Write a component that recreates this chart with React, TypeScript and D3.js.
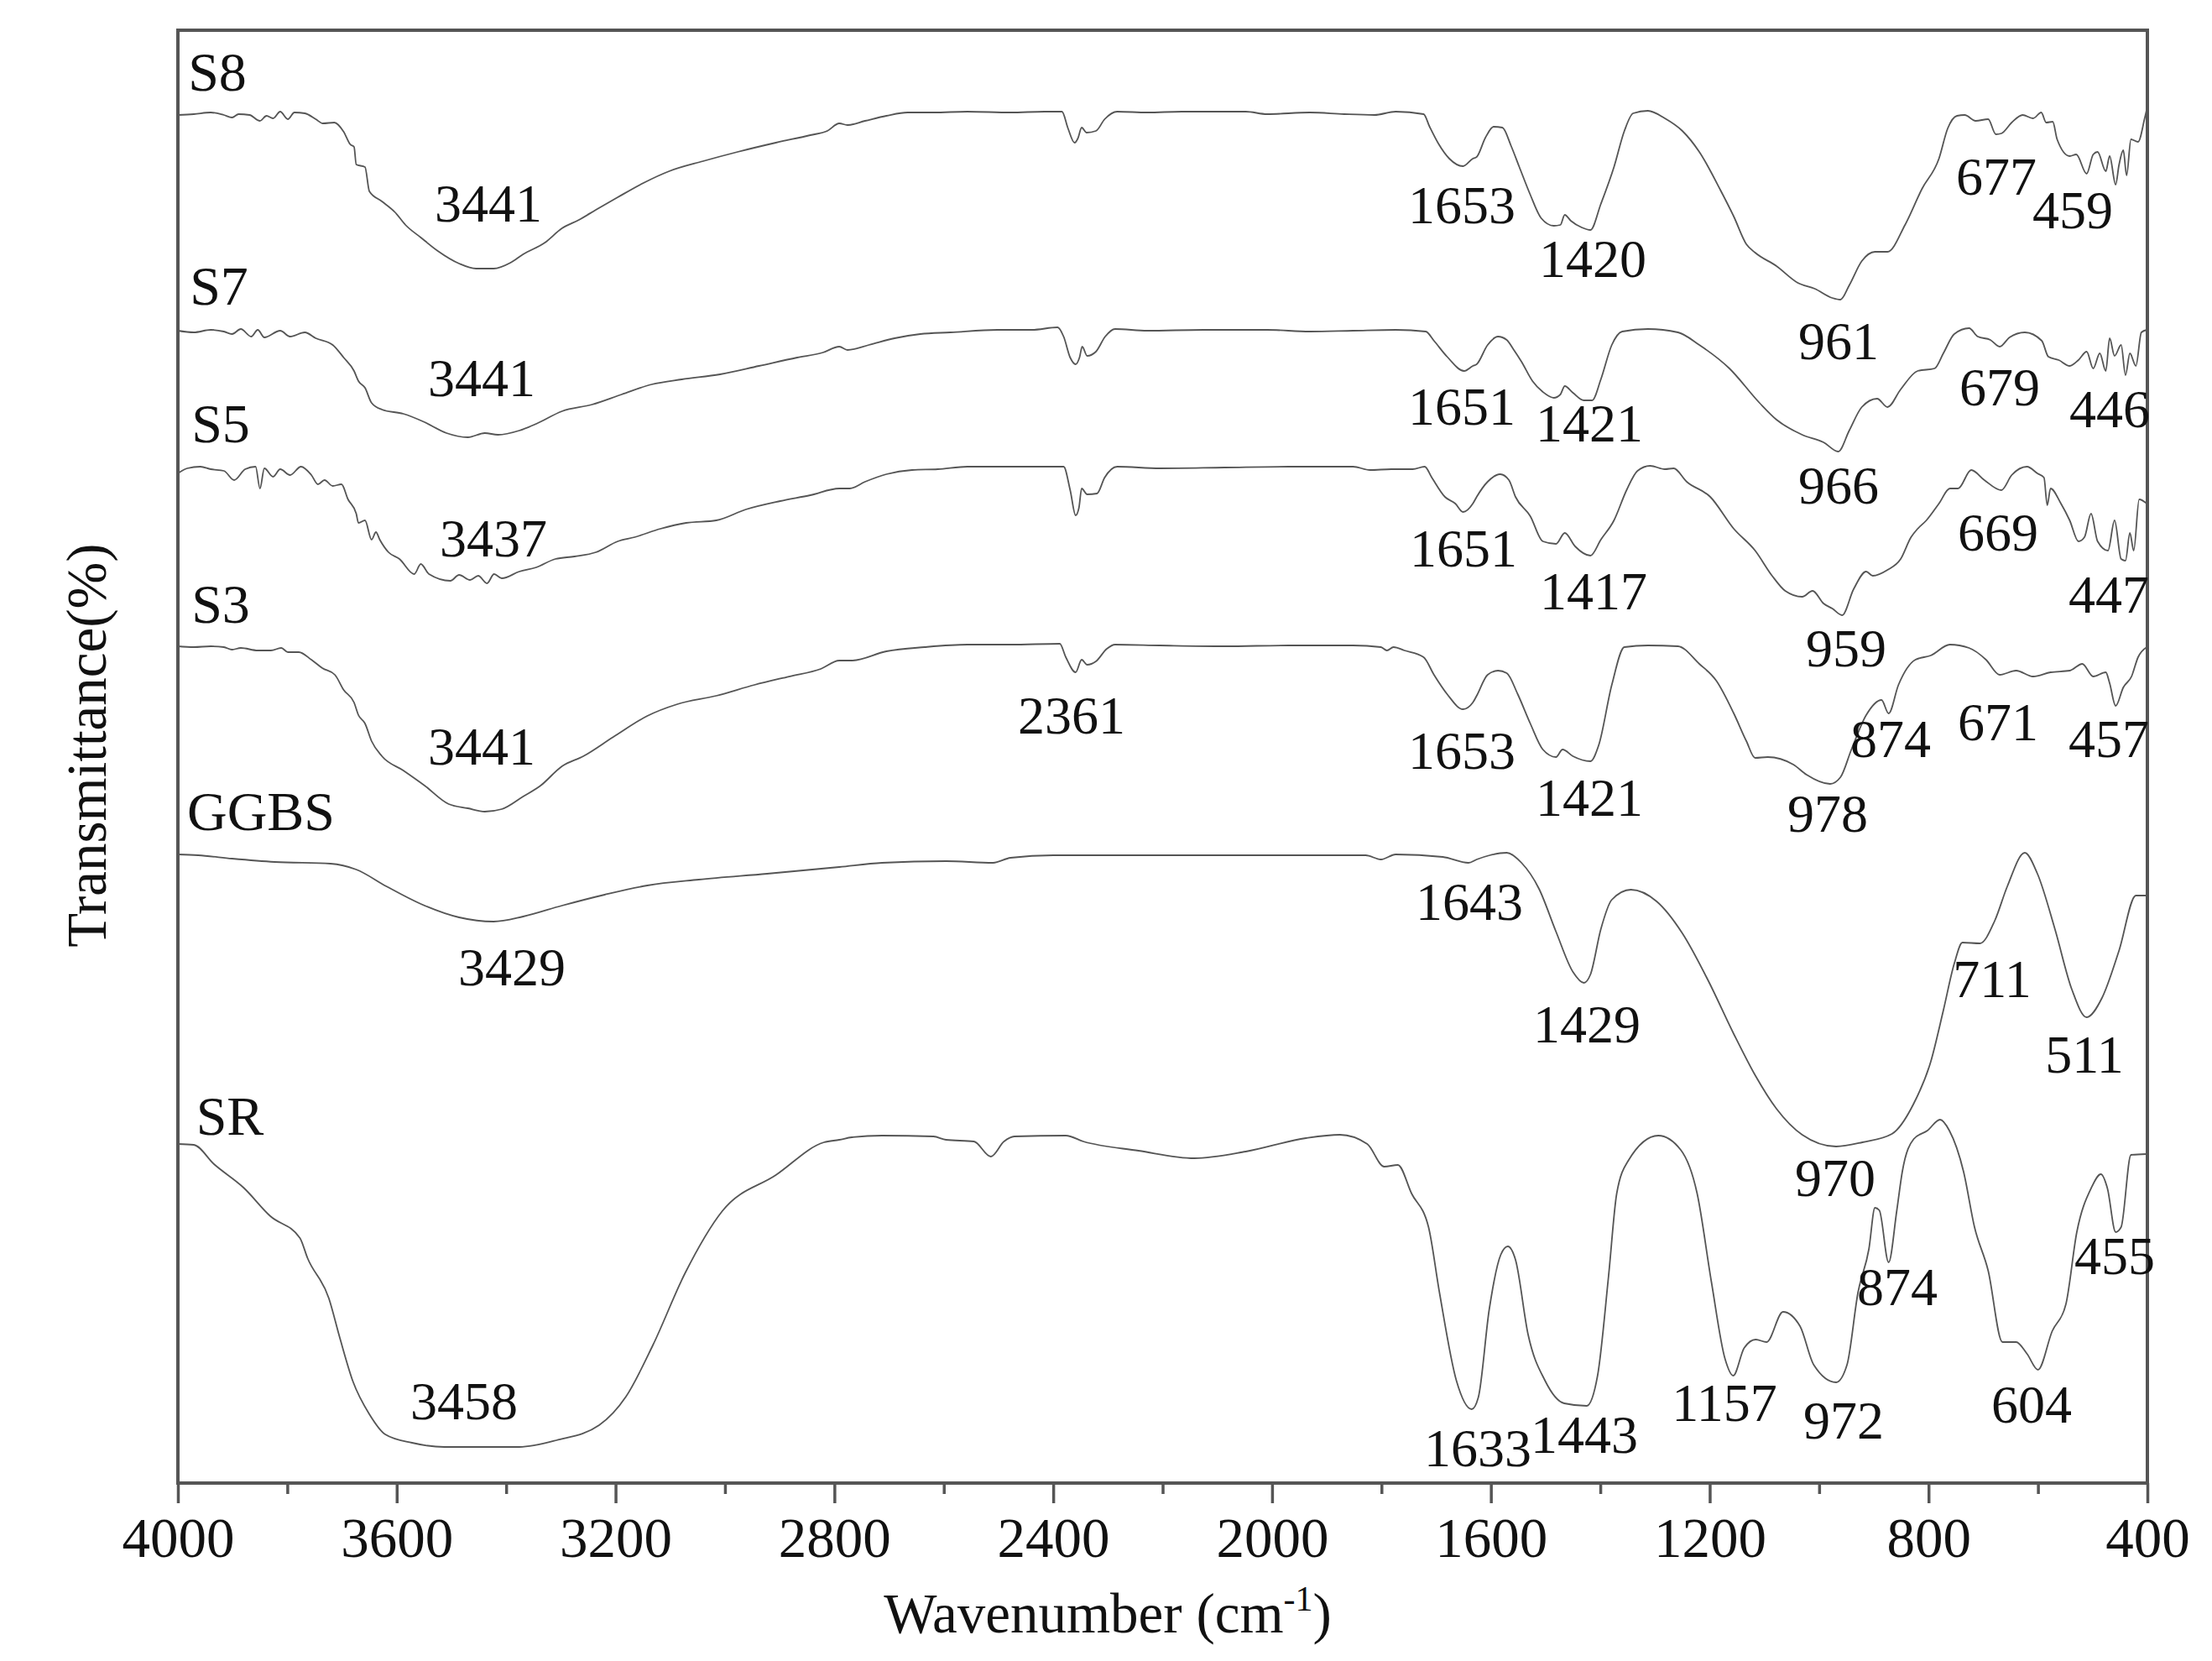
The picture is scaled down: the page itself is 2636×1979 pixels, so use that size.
// FTIR spectra
import { useEffect, useRef } from 'react';
import * as d3 from 'd3';

type Pt = [number, number];

// [wavenumber cm-1, transmittance in arbitrary stacked units]
const s8: Pt[] = [[4000,1630],[3971,1631],[3940,1633],[3916,1630],[3901,1627],[3889,1631],[3869,1630],[3850,1623],[3838,1629],[3826,1626],[3813,1634],[3799,1625],[3787,1633],[3768,1632],[3748,1625],[3735,1620],[3714,1621],[3697,1610],[3685,1595],[3678,1592],[3674,1571],[3658,1568],[3650,1539],[3627,1527],[3603,1514],[3584,1499],[3556,1484],[3525,1468],[3486,1453],[3455,1447],[3423,1447],[3392,1454],[3369,1464],[3329,1478],[3298,1495],[3267,1505],[3236,1517],[3196,1532],[3149,1549],[3102,1563],[3040,1575],[2977,1586],[2907,1597],[2844,1606],[2813,1611],[2791,1620],
  [2776,1618],[2744,1623],[2705,1629],[2666,1633],[2619,1633],[2557,1634],[2478,1633],[2416,1634],[2384,1634],[2373,1614],[2361,1597],[2355,1602],[2348,1615],[2339,1609],[2322,1611],[2306,1625],[2283,1634],[2228,1633],[2165,1634],[2103,1634],[2048,1634],[2009,1631],[1931,1633],[1868,1631],[1813,1630],[1774,1634],[1723,1631],[1712,1616],[1696,1596],[1676,1578],[1651,1569],[1633,1578],
  [1626,1580],[1610,1603],[1595,1616],[1579,1615],[1563,1593],[1548,1568],[1528,1535],[1508,1507],[1485,1498],[1473,1499],[1465,1511],[1454,1504],[1434,1496],[1418,1493],[1399,1524],[1375,1568],[1356,1611],[1340,1632],[1313,1635],[1282,1626],[1250,1611],[1219,1586],[1180,1540],[1156,1509],[1133,1476],[1117,1466],[1078,1450],[1039,1430],[1008,1423],[976,1412],[961,1410],[945,1427],[922,1456],[898,1467],[875,1467],[843,1499],[812,1542],[781,1578],[765,1614],[748,1629],[734,1630],[714,1623],[691,1625],[677,1607],[667,1608],[648,1621],[628,1630],[609,1626],[594,1633],[585,1621],[573,1622],[565,1601],[542,1581],[530,1583],[511,1560],[499,1583],[491,1586],[476,1563],[469,1581],[458,1547],[452,1570],[444,1588],[438,1558],[430,1601],[417,1598],[405,1626],[400,1640]];

const s7: Pt[] = [[4000,1373],[3971,1371],[3940,1374],[3916,1372],[3901,1369],[3885,1375],[3866,1366],[3854,1374],[3842,1365],[3813,1373],[3795,1366],[3768,1371],[3748,1364],[3717,1356],[3697,1341],[3678,1325],[3670,1313],[3658,1305],[3646,1287],[3627,1279],[3588,1274],[3549,1264],[3509,1251],[3470,1246],[3439,1251],[3415,1249],[3376,1254],[3345,1262],[3298,1277],[3243,1285],[3189,1297],[3134,1309],[3079,1315],[3009,1321],[2938,1331],[2868,1341],[2821,1347],[2791,1354],
  [2776,1350],[2737,1356],[2690,1364],[2643,1369],[2588,1371],[2502,1374],[2439,1374],[2392,1377],[2381,1366],[2369,1341],[2359,1333],[2352,1341],[2347,1354],[2338,1343],[2322,1348],[2305,1366],[2287,1375],[2228,1373],[2126,1374],[2009,1374],[1931,1372],[1852,1373],[1774,1374],[1719,1372],[1704,1361],[1680,1342],[1649,1325],[1633,1331],
  [1626,1333],[1606,1356],[1587,1366],[1571,1362],[1559,1351],[1544,1336],[1524,1313],[1505,1300],[1485,1293],[1473,1297],[1465,1307],[1450,1299],[1430,1290],[1415,1290],[1399,1315],[1379,1356],[1360,1372],[1313,1375],[1258,1371],[1219,1356],[1164,1328],[1109,1287],[1078,1267],[1031,1249],[992,1240],[965,1229],[945,1254],[922,1282],[894,1292],[875,1282],[851,1303],[820,1325],[789,1328],[773,1346],[753,1369],[726,1376],[710,1366],[687,1362],[670,1354],[652,1365],[624,1371],[593,1361],[581,1342],[562,1338],[542,1331],[526,1338],[511,1348],[499,1328],[487,1346],[476,1325],[469,1364],[460,1343],[448,1356],[440,1320],[432,1346],[421,1331],[411,1371],[401,1374]];

const s5: Pt[] = [[4000,1203],[3983,1209],[3959,1211],[3940,1208],[3916,1206],[3897,1195],[3877,1208],[3858,1211],[3850,1185],[3842,1209],[3826,1199],[3813,1208],[3795,1201],[3775,1211],[3756,1201],[3744,1190],[3732,1195],[3717,1188],[3701,1190],[3689,1172],[3674,1155],[3670,1144],[3658,1147],[3646,1124],[3638,1133],[3631,1124],[3615,1109],[3595,1101],[3568,1083],[3556,1095],[3541,1083],[3502,1075],[3486,1082],[3466,1076],[3451,1081],[3435,1072],[3422,1083],[3408,1078],[3376,1086],[3345,1091],[3310,1101],[3275,1104],[3236,1109],[3196,1122],[3165,1127],[3118,1137],[3071,1144],[3016,1147],[2962,1160],[2899,1170],[2844,1177],[2791,1185],
  [2772,1185],[2744,1193],[2705,1202],[2658,1207],[2611,1208],[2557,1211],[2478,1211],[2416,1211],[2381,1211],[2369,1183],[2359,1153],[2353,1162],[2348,1185],[2338,1178],[2320,1179],[2306,1198],[2283,1211],[2205,1209],[2087,1210],[1970,1211],[1852,1211],[1821,1207],[1782,1208],[1743,1208],[1721,1211],[1708,1198],[1684,1175],[1665,1167],[1651,1157],[1633,1167],
  [1626,1175],[1606,1193],[1583,1202],[1567,1195],[1555,1175],[1528,1152],[1505,1122],[1481,1119],[1465,1132],[1446,1116],[1418,1105],[1399,1124],[1375,1147],[1352,1183],[1332,1206],[1309,1212],[1282,1208],[1266,1209],[1242,1193],[1199,1175],[1156,1137],[1117,1111],[1086,1081],[1062,1063],[1031,1056],[1012,1063],[992,1048],[976,1042],[958,1034],[937,1065],[914,1086],[902,1081],[875,1088],[851,1101],[832,1127],[820,1137],[804,1147],[781,1167],[761,1185],[746,1185],[722,1207],[698,1195],[667,1183],[648,1201],[620,1211],[601,1203],[589,1198],[583,1165],[577,1185],[558,1167],[542,1147],[526,1122],[515,1127],[503,1155],[491,1122],[472,1111],[460,1147],[448,1101],[440,1099],[432,1132],[425,1111],[415,1172],[401,1167]];

const s3: Pt[] = [[4000,997],[3971,996],[3940,997],[3916,996],[3901,993],[3885,995],[3854,992],[3830,992],[3811,995],[3799,990],[3779,990],[3756,981],[3736,971],[3713,963],[3697,945],[3678,930],[3670,915],[3658,905],[3646,884],[3627,866],[3588,849],[3549,831],[3505,809],[3470,804],[3439,800],[3408,803],[3369,818],[3337,831],[3298,854],[3259,866],[3204,889],[3142,914],[3087,928],[3016,938],[2946,951],[2883,961],[2825,970],[2791,980],
  [2768,980],[2705,991],[2635,996],[2557,999],[2478,999],[2388,1000],[2377,984],[2359,966],[2348,981],[2338,975],[2322,979],[2302,994],[2287,999],[2205,998],[2087,997],[1970,998],[1852,998],[1801,996],[1790,992],[1778,996],[1758,992],[1723,984],[1704,963],[1680,940],[1651,922],[1633,930],
  [1626,938],[1606,963],[1587,968],[1571,965],[1551,940],[1528,905],[1505,874],[1481,865],[1469,874],[1450,866],[1418,860],[1403,879],[1379,951],[1356,996],[1313,998],[1258,997],[1219,976],[1188,956],[1156,917],[1133,884],[1117,864],[1094,865],[1047,856],[1023,844],[980,833],[961,841],[941,874],[914,915],[886,933],[873,917],[855,951],[824,981],[796,986],[761,999],[726,995],[695,981],[670,963],[640,968],[609,961],[577,966],[542,968],[519,976],[499,961],[476,966],[469,953],[458,926],[444,948],[429,961],[417,984],[401,996]];

const ggbs: Pt[] = [[4000,749],[3963,748],[3901,744],[3823,740],[3721,738],[3674,731],[3619,711],[3556,690],[3486,674],[3423,669],[3369,675],[3298,688],[3220,701],[3142,712],[3048,719],[2923,726],[2791,734],
  [2713,739],[2596,741],[2510,739],[2478,745],[2400,748],[2244,748],[2048,748],[1829,748],[1801,743],[1774,749],[1688,746],[1641,739],[1626,743],
  [1602,748],[1571,751],[1544,739],[1512,708],[1481,657],[1450,609],[1430,596],[1418,606],[1399,660],[1379,695],[1344,707],[1297,693],[1250,655],[1203,599],[1156,535],[1117,486],[1078,446],[1031,415],[969,401],[921,406],[867,416],[828,451],[796,502],[773,563],[753,619],[738,644],[706,643],[679,670],[656,711],[624,751],[601,726],[569,660],[538,588],[511,555],[483,578],[452,634],[421,700],[401,700]];

const sr: Pt[] = [[4000,404],[3971,403],[3934,380],[3880,352],[3831,318],[3777,292],[3763,268],[3724,220],[3704,173],[3680,121],[3650,82],[3621,58],[3572,48],[3513,43],[3376,43],[3308,51],[3230,69],[3181,103],[3132,164],[3073,250],[3005,324],[2907,367],[2819,406],[2791,409],
  [2768,412],[2713,414],[2619,413],[2596,409],[2545,407],[2514,389],[2490,407],[2471,413],[2377,414],[2345,407],[2244,396],[2142,387],[2048,395],[1938,411],[1876,415],
  [1826,404],[1795,377],[1770,379],[1745,345],[1714,305],[1694,227],[1663,122],[1635,88],[1623,102],[1603,207],[1582,272],[1569,282],[1555,266],[1532,177],[1501,122],[1466,95],[1425,92],[1405,128],[1385,246],[1370,345],[1349,384],[1294,414],[1253,397],[1223,345],[1197,240],[1172,148],[1157,128],[1137,161],[1116,171],[1096,168],[1066,204],[1035,187],[1010,141],[969,120],[949,141],[929,227],[909,279],[898,328],[890,325],[873,263],[858,325],[848,371],[827,410],[802,420],[779,433],[762,420],[736,371],[716,305],[691,253],[665,168],[640,168],[620,154],[600,135],[574,181],[549,213],[529,299],[503,351],[485,368],[473,351],[458,299],[448,305],[430,391],[402,392]];

const seriesList = [s8, s7, s5, s3, ggbs, sr];

const majorTicks = [4000, 3600, 3200, 2800, 2400, 2000, 1600, 1200, 800, 400];
const minorTicks = [3800, 3400, 3000, 2600, 2200, 1800, 1400, 1000, 600];

// where the text sits on the page: [text, centre x, baseline y]
const sampleNames: [string, number, number][] = [
  ['S8', 259, 108], ['S7', 261, 363], ['S5', 263, 527], ['S3', 263, 742], ['GGBS', 311, 989], ['SR', 274, 1352],
];
const peakNotes: [string, number, number][] = [
  ['3441', 582, 264], ['1653', 1742, 266], ['1420', 1898, 330], ['961', 2191, 428], ['677', 2379, 232], ['459', 2470, 272],
  ['3441', 574, 472], ['1651', 1742, 506], ['1421', 1894, 526], ['966', 2191, 600], ['679', 2383, 483], ['446', 2514, 509],
  ['3437', 588, 663], ['1651', 1744, 675], ['1417', 1899, 726], ['959', 2200, 794], ['669', 2381, 656], ['447', 2513, 730],
  ['3441', 574, 911], ['2361', 1277, 874], ['1653', 1742, 916], ['1421', 1894, 972], ['978', 2178, 991], ['874', 2253, 902], ['671', 2381, 882], ['457', 2513, 902],
  ['3429', 610, 1174], ['1643', 1751, 1096], ['1429', 1891, 1242], ['970', 2187, 1425], ['711', 2374, 1188], ['511', 2484, 1278],
  ['3458', 553, 1691], ['1633', 1761, 1747], ['1443', 1888, 1731], ['1157', 2055, 1693], ['972', 2197, 1714], ['874', 2261, 1555], ['604', 2421, 1695], ['455', 2520, 1518],
];

const WIDTH = 2636;
const HEIGHT = 1979;
const margin = { top: 36, right: 77, bottom: 212, left: 212 };
const FONT = '"Liberation Serif", serif';
const AXIS_COLOR = '#555';

export default function App() {
  const ref = useRef<SVGSVGElement>(null);

  useEffect(() => {
    const svg = d3.select(ref.current);
    svg.selectAll('*').remove();
    svg.append('rect').attr('width', WIDTH).attr('height', HEIGHT).attr('fill', '#fff');

    const x = d3.scaleLinear().domain([4000, 400]).range([margin.left, WIDTH - margin.right]);
    const y = d3.scaleLinear().domain([0, 1731]).range([HEIGHT - margin.bottom, margin.top]);

    // monotone keeps the hand-read peaks where they are, but rounds the corners
    const line = d3.line<Pt>().x(d => x(d[0])).y(d => y(d[1])).curve(d3.curveMonotoneX);
    svg.selectAll('path.spectrum')
      .data(seriesList)
      .join('path')
      .attr('class', 'spectrum')
      .attr('d', d => line(d))
      .attr('fill', 'none')
      .attr('stroke', '#555')
      .attr('stroke-width', 1.8)
      .attr('stroke-linejoin', 'round');

    // frame
    svg.append('rect')
      .attr('x', margin.left)
      .attr('y', margin.top)
      .attr('width', WIDTH - margin.left - margin.right)
      .attr('height', HEIGHT - margin.top - margin.bottom)
      .attr('fill', 'none')
      .attr('stroke', AXIS_COLOR)
      .attr('stroke-width', 4);

    // X axis
    const bottom = svg.append('g').attr('transform', `translate(0, ${HEIGHT - margin.bottom})`);
    bottom.call(d3.axisBottom(x).tickValues(majorTicks).tickFormat(d3.format('d') as any).tickSize(24).tickPadding(16).tickSizeOuter(0));
    bottom.select('.domain').remove();
    bottom.selectAll('line').attr('stroke', AXIS_COLOR).attr('stroke-width', 3.5);
    bottom.selectAll('text')
      .attr('font-family', FONT)
      .attr('font-size', 67)
      .attr('fill', '#111');

    const bottomMinor = svg.append('g').attr('transform', `translate(0, ${HEIGHT - margin.bottom})`);
    bottomMinor.call(d3.axisBottom(x).tickValues(minorTicks).tickFormat(() => '').tickSize(13).tickSizeOuter(0));
    bottomMinor.select('.domain').remove();
    bottomMinor.selectAll('line').attr('stroke', AXIS_COLOR).attr('stroke-width', 3.5);

    const notes = svg.append('g').attr('font-family', FONT).attr('fill', '#111').attr('text-anchor', 'middle');
    notes.selectAll('text.peak')
      .data(peakNotes)
      .join('text')
      .attr('class', 'peak')
      .attr('x', d => d[1])
      .attr('y', d => d[2])
      .attr('font-size', 64)
      .text(d => d[0]);
    notes.selectAll('text.sample')
      .data(sampleNames)
      .join('text')
      .attr('class', 'sample')
      .attr('x', d => d[1])
      .attr('y', d => d[2])
      .attr('font-size', 66)
      .text(d => d[0]);

    // axis titles
    const xTitle = svg.append('text')
      .attr('x', 1320)
      .attr('y', 1945)
      .attr('text-anchor', 'middle')
      .attr('font-family', FONT)
      .attr('font-size', 67)
      .attr('fill', '#111');
    xTitle.append('tspan').text('Wavenumber (cm');
    xTitle.append('tspan').attr('font-size', 42).attr('dy', -26).text('-1');
    xTitle.append('tspan').attr('dy', 26).text(')');

    svg.append('text')
      .attr('transform', 'translate(126, 888) rotate(-90)')
      .attr('text-anchor', 'middle')
      .attr('font-family', FONT)
      .attr('font-size', 67)
      .attr('fill', '#111')
      .text('Transmittance(%)');
  }, []);

  return (
    <svg
      ref={ref}
      width={WIDTH}
      height={HEIGHT}
      style={{ position: 'absolute', left: 0, top: 0, display: 'block' }}
    />
  );
}
